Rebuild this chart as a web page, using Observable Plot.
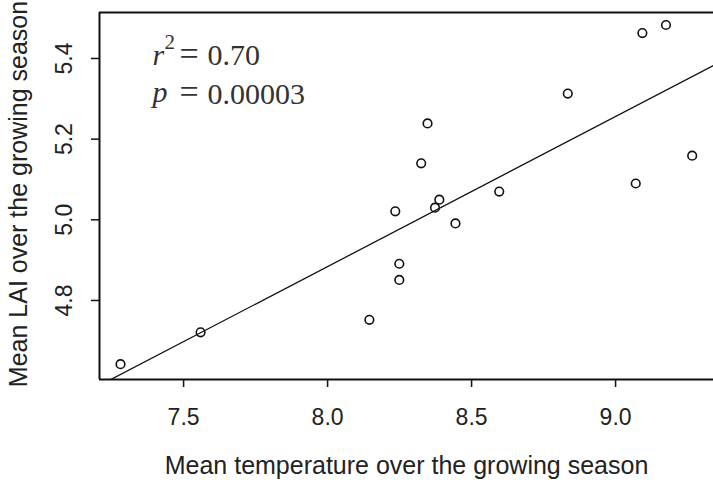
<!DOCTYPE html>
<html><head><meta charset="utf-8">
<script src="https://cdn.jsdelivr.net/npm/d3@7"></script>
<script src="https://cdn.jsdelivr.net/npm/@observablehq/plot@0.6"></script>
<style>body{margin:0;background:#fff}</style>
</head><body><div id="chart"></div>
<script>
const temperature = [9.093, 9.175, 8.834, 8.347, 8.325, 9.266, 9.070, 8.596, 8.388, 8.373, 8.235, 8.444, 8.249, 8.249, 8.145, 7.281, 7.559];
const lai =         [5.463, 5.483, 5.313, 5.239, 5.140, 5.159, 5.090, 5.070, 5.050, 5.030, 5.021, 4.991, 4.891, 4.851, 4.752, 4.642, 4.721];
const xTicks = [7.5, 8.0, 8.5, 9.0];
const yTicks = [4.8, 5.0, 5.2, 5.4];
const fitIntercept = 1.908;
const fitSlope = 0.372;
const xDomain = [7.208, 9.34];
const yDomain = [4.604, 5.514];
const xTitle = "Mean temperature over the growing season";
const yTitle = "Mean LAI over the growing season";
const statR = "0.70";
const statP = "0.00003";

const points = temperature.map((t, i) => ({t, lai: lai[i]}));
const fitLine = xDomain.map(t => ({t, lai: fitIntercept + fitSlope * t}));
const serif = "Liberation Serif, Times New Roman, serif";
const ann = {frameAnchor: "top-left", textAnchor: "start", lineAnchor: "bottom", fontFamily: serif, fill: "#333"};

const chart = Plot.plot({
  width: 713, height: 480,
  marginLeft: 99, marginRight: 0, marginTop: 12, marginBottom: 101,
  x: {domain: xDomain, label: null},
  y: {domain: yDomain, label: null},
  style: {fontFamily: "Liberation Sans, Arial, sans-serif", color: "#111", background: "#fff"},
  marks: [
    Plot.axisX(xTicks, {tickSize: 8, tickFormat: () => "", strokeWidth: 1.5, stroke: "#111"}),
    Plot.axisY(yTicks, {tickSize: 8, tickFormat: () => "", strokeWidth: 1.5, stroke: "#111"}),
    Plot.ruleX([xDomain[0]], {stroke: "#111", strokeWidth: 2}),
    Plot.ruleY(yDomain, {stroke: "#111", strokeWidth: 2}),
    Plot.line(fitLine, {x: "t", y: "lai", stroke: "#111", strokeWidth: 1.3, clip: true}),
    Plot.dot(points, {x: "t", y: "lai", r: 4.3, stroke: "#111", strokeWidth: 1.6, fill: "none"}),
    Plot.text(xTicks, {x: d => d, text: d => d.toFixed(1), frameAnchor: "bottom", textAnchor: "middle", lineAnchor: "middle", dy: 38, fontSize: 23, fill: "#222"}),
    Plot.text(yTicks, {y: d => d, text: d => d.toFixed(1), frameAnchor: "left", textAnchor: "middle", lineAnchor: "middle", rotate: -90, dx: -34.5, fontSize: 23, fill: "#222"}),
    Plot.text([xTitle], {text: d => d, frameAnchor: "bottom", textAnchor: "middle", lineAnchor: "middle", dy: 86, fontSize: 25, fill: "#222"}),
    Plot.text([yTitle], {text: d => d, frameAnchor: "left", textAnchor: "middle", lineAnchor: "middle", rotate: -90, dx: -81, dy: -2, fontSize: 25, fill: "#222"}),
    Plot.text(["r"], {...ann, text: d => d, dx: 53, dy: 52, fontStyle: "italic", fontSize: 30}),
    Plot.text(["2"], {...ann, text: d => d, dx: 65, dy: 36, fontSize: 21}),
    Plot.text(["="], {...ann, text: d => d, dx: 80, dy: 52, fontSize: 34}),
    Plot.text([statR], {...ann, text: d => d, dx: 108, dy: 52, fontSize: 30}),
    Plot.text(["p"], {...ann, text: d => d, dx: 53, dy: 89, fontStyle: "italic", fontSize: 30}),
    Plot.text(["="], {...ann, text: d => d, dx: 80, dy: 90, fontSize: 34}),
    Plot.text([statP], {...ann, text: d => d, dx: 108, dy: 91, fontSize: 30})
  ]
});
document.getElementById("chart").appendChild(chart);
</script>
</body></html>
